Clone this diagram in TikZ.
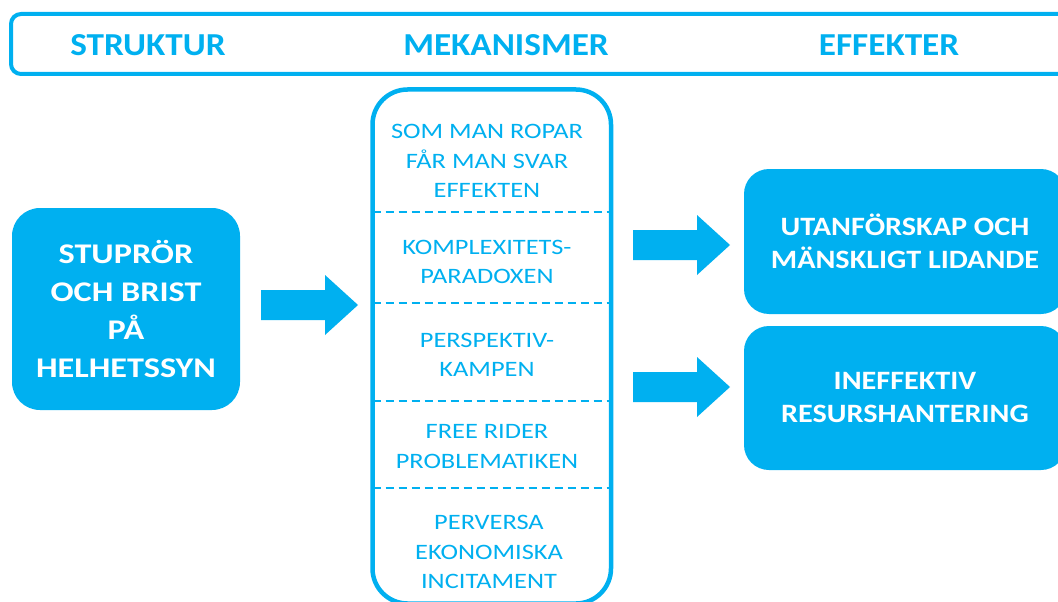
\documentclass[tikz,border=0pt]{standalone}
\usepackage{fontspec}
\setmainfont{Carlito}
\newfontfamily\hfont[FakeStretch=1.10]{Carlito}
\newfontfamily\lfont[FakeStretch=1.20]{Carlito}
\newfontfamily\mfont[FakeStretch=1.20]{Carlito}
\newfontfamily\rfont[FakeStretch=1.14]{Carlito}
\definecolor{cyanb}{HTML}{00B0F0}
\tikzset{
  blockarrow/.pic={\fill[cyanb] (0,-15) -- (64,-15) -- (64,-30) -- (97,0) -- (64,30) -- (64,15) -- (0,15) -- cycle;},
  headtxt/.style={text=cyanb, font=\hfont\fontsize{32}{36}\selectfont\bfseries},
  fillbox/.style={fill=cyanb, rounded corners=28pt, text=white, align=center, inner sep=0pt},
  midtxt/.style={text=cyanb, align=center, font=\mfont\fontsize{22}{29.5}\selectfont},
  sepline/.style={cyanb, line width=1.5pt, dash pattern=on 8pt off 5pt}
}
\begin{document}
\begin{tikzpicture}[x=1pt,y=-1pt]
\useasboundingbox (0,0) rectangle (1058,602);
\clip (0,0) rectangle (1058,602);
\fill[white] (0,0) rectangle (1058,602);
% header
\node[draw=cyanb, line width=4pt, rounded corners=10pt, minimum width=1064pt, minimum height=60pt, inner sep=0pt] (hdr) at (543,44) {};
\node[headtxt] (h1) at (148,45) {STRUKTUR};
\node[headtxt] (h2) at (506,45) {MEKANISMER};
\node[headtxt] (h3) at (889,45) {EFFEKTER};
% left box
\node[fillbox, minimum width=228pt, minimum height=202pt, font=\lfont\fontsize{28.5}{38}\selectfont\bfseries] (stru) at (126,309) {STUPRÖR\\OCH BRIST\\PÅ\\HELHETSSYN};
% middle box
\node[draw=cyanb, line width=4.5pt, rounded corners=35pt, minimum width=238.5pt, minimum height=514pt, inner sep=0pt] (mek) at (491.75,346.5) {};
\coordinate (d1l) at (372.5,212); \coordinate (d1r) at (611,212);
\coordinate (d2l) at (372.5,303); \coordinate (d2r) at (611,303);
\coordinate (d3l) at (372.5,401); \coordinate (d3r) at (611,401);
\coordinate (d4l) at (372.5,488); \coordinate (d4r) at (611,488);
\draw[sepline] (d1l) -- (d1r);
\draw[sepline] (d2l) -- (d2r);
\draw[sepline] (d3l) -- (d3r);
\draw[sepline] (d4l) -- (d4r);
\node[midtxt] (m1) at (487,161) {SOM MAN ROPAR\\FÅR MAN SVAR\\EFFEKTEN};
\node[midtxt] (m2) at (487,262) {KOMPLEXITETS-\\PARADOXEN};
\node[midtxt] (m3) at (487,355) {PERSPEKTIV-\\KAMPEN};
\node[midtxt] (m4) at (487,446.5) {FREE RIDER\\PROBLEMATIKEN};
\node[midtxt] (m5) at (489,552) {PERVERSA\\EKONOMISKA\\INCITAMENT};
% right boxes
\node[fillbox, rounded corners=25pt, minimum width=322pt, minimum height=145pt, font=\rfont\fontsize{26.5}{33}\selectfont\bfseries] (eff1) at (905,241.5) {UTANFÖRSKAP OCH\\MÄNSKLIGT LIDANDE};
\node[fillbox, rounded corners=25pt, minimum width=322pt, minimum height=144pt, font=\rfont\fontsize{26.5}{33}\selectfont\bfseries] (eff2) at (905,398) {INEFFEKTIV\\RESURSHANTERING};
% arrows
\pic at (261,305) {blockarrow};
\pic at (633,245) {blockarrow};
\pic at (633,387) {blockarrow};
\end{tikzpicture}
\end{document}
